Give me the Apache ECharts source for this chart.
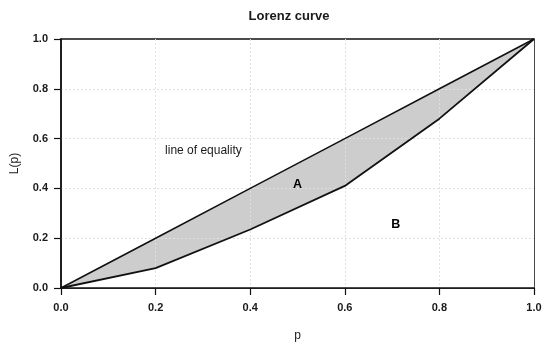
<!DOCTYPE html>
<html><head><meta charset="utf-8">
<script src="https://cdn.jsdelivr.net/npm/echarts@6/dist/echarts.min.js"></script>
<style>html,body{margin:0;padding:0;background:#fff}#c{width:550px;height:348px}</style>
</head><body><div id="c"></div>
<script>
var pValues = [0, 0.2, 0.4, 0.6, 0.8, 1.0];
var equalityValues = [0, 0.2, 0.4, 0.6, 0.8, 1.0];
var lorenzValues = [0, 0.08, 0.235, 0.41, 0.68, 1.0];
var annotTexts = ['line of equality', 'A', 'B'];
var annotX = [0.22, 0.5, 0.708];
var annotY = [0.553, 0.414, 0.253];

var eqData = pValues.map(function (p, i) { return [p, equalityValues[i]]; });
var lzData = pValues.map(function (p, i) { return [p, lorenzValues[i]]; });
var annData = annotTexts.map(function (t, i) {
  return {name: t, value: [annotX[i], annotY[i]],
    label: {color: i === 0 ? '#1a1a1a' : '#000', fontWeight: i === 0 ? 'normal' : 'bold', align: i === 0 ? 'left' : 'center', fontSize: i === 0 ? 12 : 12.5}};
});

var FF = 'Liberation Sans, Arial, sans-serif';
var chart = echarts.init(document.getElementById('c'), null, {renderer: 'canvas'});
var tickFont = {color: '#1a1a1a', fontSize: 11, fontWeight: 'bold', fontFamily: FF};
var gridLine = {show: true, showMinLine: false, showMaxLine: false, lineStyle: {color: '#e0e0e0', type: [2, 2], width: 1}};
chart.setOption({
  animation: false,
  backgroundColor: '#fff',
  title: {
    text: 'Lorenz curve', left: 284, top: 5, textAlign: 'center',
    textStyle: {fontSize: 13, fontWeight: 'bold', color: '#1a1a1a', fontFamily: FF}
  },
  grid: {left: 61, right: 16, top: 39, bottom: 60, show: true, borderColor: '#111', borderWidth: 1.5, backgroundColor: 'transparent'},
  xAxis: {
    type: 'value', min: 0, max: 1, interval: 0.2, z: 2,
    name: 'p', nameLocation: 'middle', nameGap: 42,
    nameTextStyle: {fontSize: 12, fontWeight: 'normal', color: '#1a1a1a', fontFamily: FF},
    axisLine: {show: true, lineStyle: {color: '#111', width: 1.5}},
    axisTick: {show: true, length: 7, lineStyle: {color: '#111', width: 1.2}},
    axisLabel: Object.assign({margin: 14, formatter: function (v) { return v.toFixed(1); }}, tickFont),
    splitLine: gridLine
  },
  yAxis: {
    type: 'value', min: 0, max: 1, interval: 0.2, z: 2,
    name: 'L(p)', nameLocation: 'middle', nameGap: 40, nameRotate: 90,
    nameTextStyle: {fontSize: 12, fontWeight: 'normal', color: '#1a1a1a', fontFamily: FF},
    axisLine: {show: true, lineStyle: {color: '#111', width: 1.5}},
    axisTick: {show: true, length: 7, lineStyle: {color: '#111', width: 1.2}},
    axisLabel: Object.assign({margin: 13, formatter: function (v) { return v.toFixed(1); }}, tickFont),
    splitLine: gridLine
  },
  series: [
    {type: 'line', data: eqData, z: 1, symbol: 'none', lineStyle: {width: 0}, areaStyle: {color: '#cdcdcd', opacity: 1, origin: 'start'}, silent: true},
    {type: 'line', data: lzData, z: 1, symbol: 'none', lineStyle: {width: 0}, areaStyle: {color: '#ffffff', opacity: 1, origin: 'start'}, silent: true},
    {type: 'line', data: eqData, z: 5, symbol: 'none', lineStyle: {color: '#111', width: 1.6}, silent: true},
    {type: 'line', data: lzData, z: 5, symbol: 'none', lineStyle: {color: '#111', width: 1.8}, silent: true},
    {type: 'scatter', data: annData, z: 6, symbolSize: 1, silent: true,
      itemStyle: {opacity: 1, color: 'rgba(0,0,0,0)'},
      label: {show: true, position: 'inside', formatter: function (p) { return p.name; },
        color: '#1a1a1a', fontSize: 12, fontFamily: FF}}
  ]
});
</script></body></html>
